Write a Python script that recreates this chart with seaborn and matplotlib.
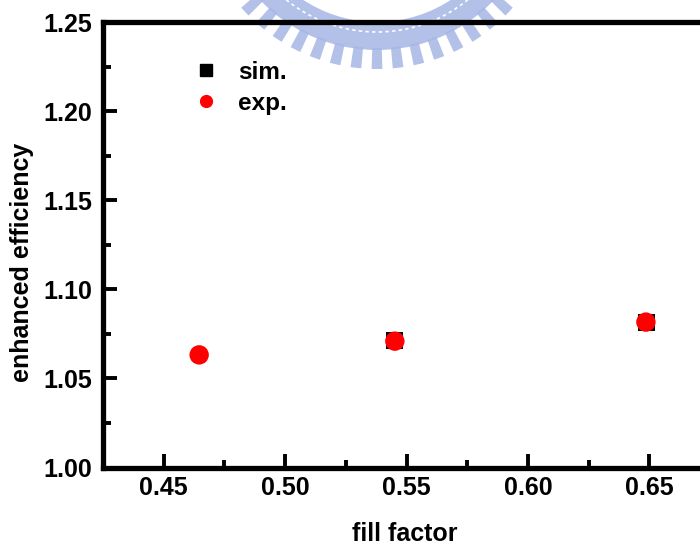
import matplotlib
matplotlib.use("Agg")
import matplotlib.pyplot as plt
import seaborn as sns
import pandas as pd
import numpy as np
from matplotlib.ticker import MultipleLocator
from matplotlib.patches import Wedge, Arc
from matplotlib.transforms import IdentityTransform

sns.set_style("white")
plt.rcParams['font.family'] = ['Liberation Sans', 'DejaVu Sans']
plt.rcParams['font.weight'] = 'bold'
for k in ['text.color', 'axes.labelcolor', 'xtick.color', 'ytick.color']:
    plt.rcParams[k] = 'black'

sim_x = [0.545, 0.649]
sim_y = [1.071, 1.0815]
exp_x = [0.4646, 0.5452, 0.6486]
exp_y = [1.0632, 1.0709, 1.0816]
xticks = [0.45, 0.50, 0.55, 0.60, 0.65]
yticks = [1.00, 1.05, 1.10, 1.15, 1.20, 1.25]

sim_df = pd.DataFrame({"fill factor": sim_x, "enhanced efficiency": sim_y})
exp_df = pd.DataFrame({"fill factor": exp_x, "enhanced efficiency": exp_y})

W, H = 700, 546
fig = plt.figure(figsize=(7.0, 5.46), dpi=100)
left_px, right_px, top_px, bot_px = 103, 770.7, 22, 467.5
ax = fig.add_axes([left_px/W, (H-bot_px)/H, (right_px-left_px)/W, (bot_px-top_px)/H])
ax.set_facecolor("none")

# faint watermark logo (decorative, behind the axes)
cx, cy = 377, H + 112
logo_col = "#a6b6e6"
idt = IdentityTransform()
fig.patches.append(Wedge((cx, cy), 162, 200, 340, width=28, transform=idt,
                         facecolor=logo_col, edgecolor="none", alpha=0.85, zorder=-5))
fig.patches.append(Arc((cx, cy), 2*144, 2*144, theta1=215, theta2=325, transform=idt,
                       color="white", lw=1.2, linestyle=(0, (2, 2)), zorder=-4))
for ang in np.arange(270 - 6.7*7, 270 + 6.7*7.5, 6.7):
    fig.patches.append(Wedge((cx, cy), 181, ang - 1.7, ang + 1.7, width=21,
                             transform=idt, facecolor=logo_col,
                             edgecolor="none", alpha=0.85, zorder=-5))

sns.scatterplot(data=sim_df, x="fill factor", y="enhanced efficiency", ax=ax,
                marker="s", s=150, color="black", edgecolor="none", linewidth=0, zorder=3)
sns.scatterplot(data=exp_df, x="fill factor", y="enhanced efficiency", ax=ax,
                marker="o", s=195, color="#ff0000", edgecolor="none", linewidth=0, zorder=4)

ax.set_xlim(0.425, 0.70)
ax.set_ylim(1.00, 1.25)
ax.set_xticks(xticks)
ax.set_yticks(yticks)
ax.set_xticklabels([f"{v:.2f}" for v in xticks])
ax.set_yticklabels([f"{v:.2f}" for v in yticks])
ax.xaxis.set_minor_locator(MultipleLocator(0.025))
ax.yaxis.set_minor_locator(MultipleLocator(0.025))

for sp in ax.spines.values():
    sp.set_linewidth(3.8)
    sp.set_color("black")
    sp.set_zorder(5)
ax.tick_params(which="major", direction="in", length=10, width=2.8, labelsize=18,
               bottom=True, left=True, top=False, right=False, pad=6, colors="black")
ax.tick_params(axis="y", which="major", pad=8)
ax.tick_params(which="minor", direction="in", length=5.5, width=2.8,
               bottom=True, left=True, top=False, right=False)
for t in ax.get_xticklabels() + ax.get_yticklabels():
    t.set_fontweight("bold")

ax.set_xlabel("fill factor", fontsize=18, fontweight="bold")
ax.set_ylabel("enhanced efficiency", fontsize=18, fontweight="bold")
ax.xaxis.set_label_coords((405 - left_px)/(right_px - left_px), (bot_px - 534)/(bot_px - top_px))
ax.yaxis.set_label_coords((22 - left_px)/(right_px - left_px), (bot_px - 262)/(bot_px - top_px))
ax.xaxis.label.set_va("center")
ax.yaxis.label.set_va("center")

h1 = plt.Line2D([], [], marker="s", linestyle="none", color="black", markersize=8)
h2 = plt.Line2D([], [], marker="o", linestyle="none", color="#ff0000", markersize=8.5)
ax.legend([h1, h2], ["sim.", "exp."], loc="upper left",
          bbox_to_anchor=((170 - left_px)/(right_px - left_px), (bot_px - 39)/(bot_px - top_px)),
          frameon=False,
          prop={"family": "Liberation Sans", "weight": "bold", "size": 17.5},
          handletextpad=0.7, labelspacing=0.33, handlelength=1.2)

fig.savefig("out.png", dpi=100)
